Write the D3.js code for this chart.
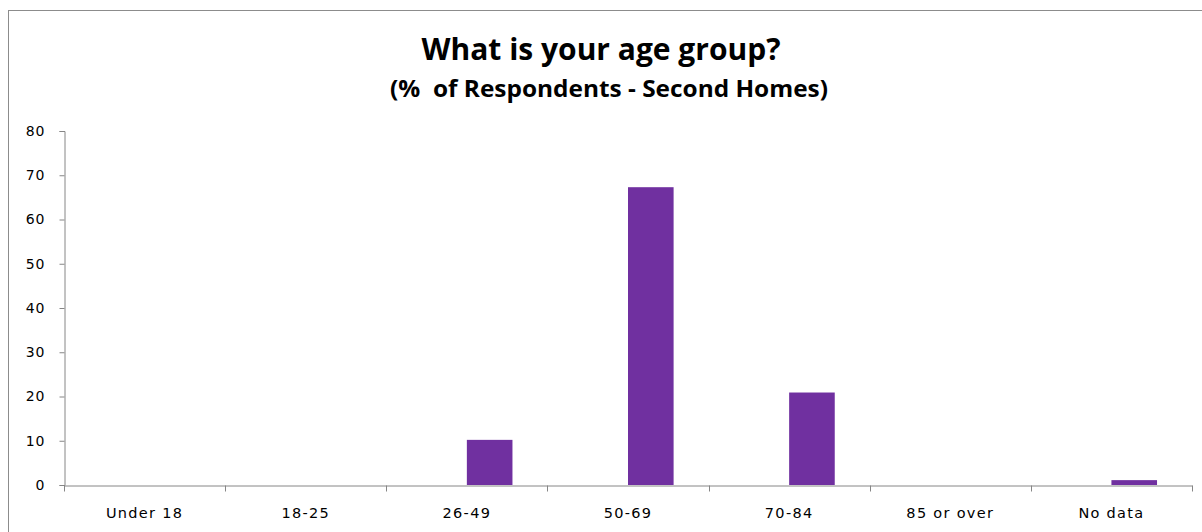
<!DOCTYPE html>
<html><head><meta charset="utf-8">
<script src="https://cdn.jsdelivr.net/npm/d3@7"></script>
<style>body{margin:0;background:#fff;} svg{display:block;}</style>
</head><body>
<svg id="c" width="1202" height="532"></svg>
<script>
const categories = ["Under 18","18-25","26-49","50-69","70-84","85 or over","No data"];
const values = [0, 0, 10.2, 67.3, 20.9, 0, 1.1];
const yTicks = [0,10,20,30,40,50,60,70,80];
const title = "What is your age group?";
const subtitle = "(%  of Respondents - Second Homes)";

const svg = d3.select("#c");
const plotLeft = 64, plotRight = 1192, plotTop = 131, plotBottom = 485;
const tickFont = "DejaVu Sans, Verdana, sans-serif";

// outer chart border
svg.append("rect").attr("x",8.5).attr("y",10.5).attr("width",1210).attr("height",540)
  .attr("fill","#fff").attr("stroke","#8c8c8c").attr("stroke-width",1);

const x = d3.scaleBand().domain(categories).range([plotLeft,plotRight]).padding(0);
const y = d3.scaleLinear().domain([0,80]).range([plotBottom,plotTop]);

// bars (start at category centre, like a 2-series clustered column)
const bw = x.bandwidth()*0.283;
svg.append("g").selectAll("rect").data(categories).join("rect")
  .attr("x", d => x(d) + x.bandwidth()/2)
  .attr("y", (d,i) => y(values[i]))
  .attr("width", bw)
  .attr("height", (d,i) => y(0) - y(values[i]))
  .attr("fill","#7030a0");

// y axis
const yAxis = d3.axisLeft(y).tickValues(yTicks).tickSize(5).tickPadding(14);
const gy = svg.append("g").attr("transform",`translate(${plotLeft+0.5},0)`).call(yAxis);
gy.select(".domain").attr("stroke","#868686");
gy.selectAll(".tick line").attr("stroke","#868686");
gy.selectAll("text").attr("font-family",tickFont).attr("font-size",14)
  .attr("letter-spacing",1).attr("fill","#000");

// x axis
const xAxis = d3.axisBottom(x).tickSize(0).tickPadding(22);
const gx = svg.append("g").attr("transform",`translate(0,${plotBottom+0.5})`).call(xAxis);
gx.select(".domain").attr("stroke","#868686");
gx.selectAll("text").attr("font-family",tickFont).attr("font-size",14.5)
  .attr("letter-spacing",1.3).attr("fill","#000");
// category boundary ticks
const bounds = categories.map(c => x(c)).concat([plotRight]);
gx.append("g").selectAll("line").data(bounds).join("line")
  .attr("x1", d => Math.round(d)+0.5).attr("x2", d => Math.round(d)+0.5)
  .attr("y1",0).attr("y2",6).attr("stroke","#868686");

// titles
svg.append("text").attr("x",601).attr("y",60).attr("text-anchor","middle")
  .attr("font-family","Open Sans, sans-serif").attr("font-weight","bold")
  .attr("font-size",30).attr("fill","#000").text(title);
svg.append("text").attr("x",609).attr("y",97).attr("text-anchor","middle")
  .attr("font-family","Open Sans, sans-serif").attr("font-weight","bold")
  .attr("font-size",23.5).attr("fill","#000").attr("xml:space","preserve")
  .attr("textLength",438).attr("lengthAdjust","spacingAndGlyphs").text(subtitle);
</script>
</body></html>
